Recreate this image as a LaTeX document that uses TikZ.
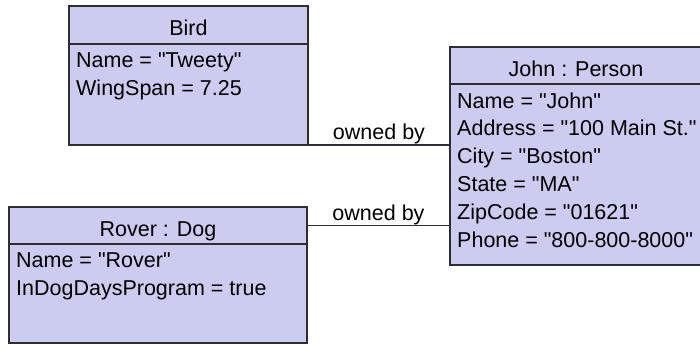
\documentclass[tikz,border=0pt]{standalone}
\usepackage{fontspec}
\setmainfont{Liberation Sans}[Ligatures=TeXOff]
\usepackage{xcolor}
\usepackage{tikz}
\usetikzlibrary{positioning, calc}

\definecolor{objfill}{RGB}{204,204,240}
\definecolor{objline}{RGB}{45,45,50}

\tikzset{
  objhead/.style={draw=objline, fill=objfill, line width=1.6pt, outer sep=0pt, inner sep=0pt,
    anchor=north west, text height=21.4pt, text depth=0pt},
  objbody/.style={draw=objline, fill=objfill, line width=1.6pt, outer sep=0pt, inner sep=0pt,
    anchor=north west},
  attrs/.style={anchor=north west, inner sep=0pt, align=left},
  link/.style={draw=objline, line width=1.6pt},
  linklabel/.style={above, inner sep=0pt}
}

\begin{document}
\begin{tikzpicture}[x=1pt, y=-1pt, font={\fontsize{21.5}{27.8}\selectfont}]
    \useasboundingbox (0,0) rectangle (700,345);
    % Object boxes: header with the name, body with the slot values
    \node[objhead, minimum width=239pt, minimum height=38pt] (birdhead) at (69,6) {Bird};
    \node[objbody, minimum width=239pt, minimum height=101pt] (bird) at (birdhead.south west) {};
    \node[attrs] (birdattrs) at ($(bird.north west)+(7,8.3)$) {Name = "Tweety"\\WingSpan = 7.25};

    \node[objhead, minimum width=252pt, minimum height=37pt] (johnhead) at (450,47) {John : Person};
    \node[objbody, minimum width=252pt, minimum height=181pt] (john) at (johnhead.south west) {};
    \node[attrs] (johnattrs) at ($(john.north west)+(7,8.3)$) {Name = "John"\\Address = "100 Main St."\\City = "Boston"\\State = "MA"\\ZipCode = "01621"\\Phone = "800-800-8000"};

    \node[objhead, minimum width=298pt, minimum height=37pt] (doghead) at (9,207) {Rover : Dog};
    \node[objbody, minimum width=298pt, minimum height=99pt] (dog) at (doghead.south west) {};
    \node[attrs] (dogattrs) at ($(dog.north west)+(7,8.3)$) {Name = "Rover"\\InDogDaysProgram = true};

    % Links
    \draw[link] (bird.south east) -- node[linklabel] {owned by} (bird.south east -| johnhead.west);
    \draw[link] (doghead.east) -- node[linklabel] {owned by} (doghead.east -| johnhead.west);
  \end{tikzpicture}
\end{document}
